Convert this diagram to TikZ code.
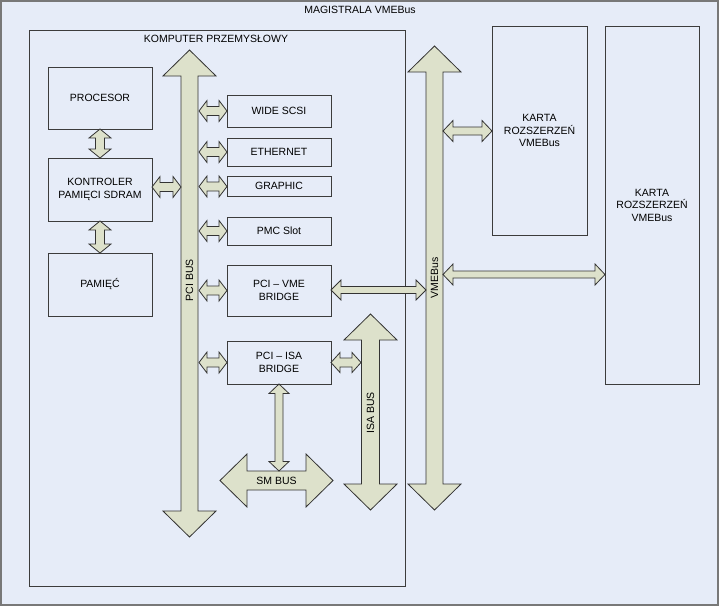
\documentclass[tikz,border=0pt]{standalone}
\usepackage{fontspec}
\setmainfont{Liberation Sans}
\definecolor{bgblue}{RGB}{230,236,248}
\definecolor{busfill}{RGB}{221,225,203}
\definecolor{frame}{RGB}{120,120,120}
\definecolor{boxline}{RGB}{60,60,60}
\newcommand\HArrow[6]{% x1 x2 yc shaft-half head-half head-len
  \filldraw[busarrow] (#1,#3) -- (#1+#6,#3-#5) -- (#1+#6,#3-#4) -- (#2-#6,#3-#4) -- (#2-#6,#3-#5)
    -- (#2,#3) -- (#2-#6,#3+#5) -- (#2-#6,#3+#4) -- (#1+#6,#3+#4) -- (#1+#6,#3+#5) -- cycle;}
\newcommand\VArrow[6]{% xc y1 y2 shaft-half head-half head-len
  \filldraw[busarrow] (#1,#2) -- (#1+#5,#2+#6) -- (#1+#4,#2+#6) -- (#1+#4,#3-#6) -- (#1+#5,#3-#6)
    -- (#1,#3) -- (#1-#5,#3-#6) -- (#1-#4,#3-#6) -- (#1-#4,#2+#6) -- (#1-#5,#2+#6) -- cycle;}
\begin{document}
\begin{tikzpicture}[x=1pt,y=-1pt,
  every node/.style={font=\fontsize{10.5}{12.5}\selectfont, text=black},
  blk/.style={draw=boxline, line width=1pt, fill=bgblue, inner sep=0pt, align=center},
  busarrow/.style={draw=black!80, line width=0.8pt, fill=busfill, line join=miter},
  lbl/.style={inner sep=0pt, align=center}]
\useasboundingbox (0,0) rectangle (719,606);
\filldraw[fill=bgblue, draw=frame, line width=2pt] (1,1) rectangle (718,605);
\node[lbl] (title) at (360,10) {MAGISTRALA VMEBus};
% computer frame
\draw[draw=boxline, line width=1pt] (29,30) rectangle (405,586);
\node[lbl] (komp) at (216,39) {KOMPUTER PRZEMYSŁOWY};
% left column
\node[blk, minimum width=104pt, minimum height=62pt] (proc) at (100,98) {PROCESOR};
\node[blk, minimum width=104pt, minimum height=63pt] (kontr) at (100,189.5) {KONTROLER\\PAMIĘCI SDRAM};
\node[blk, minimum width=104pt, minimum height=63pt] (pam) at (100,284.5) {PAMIĘĆ};
% PCI devices
\node[blk, minimum width=104pt, minimum height=32pt] (scsi) at (279,111) {WIDE SCSI};
\node[blk, minimum width=104pt, minimum height=28pt] (eth) at (279,152) {ETHERNET};
\node[blk, minimum width=104pt, minimum height=20pt] (gfx) at (279,186) {GRAPHIC};
\node[blk, minimum width=104pt, minimum height=28pt] (pmc) at (279,231) {PMC Slot};
\node[blk, minimum width=104pt, minimum height=51pt] (pcivme) at (279,290.5) {PCI – VME\\BRIDGE};
\node[blk, minimum width=104pt, minimum height=43pt] (pciisa) at (279,362.5) {PCI – ISA\\BRIDGE};
% cards
\node[blk, minimum width=95pt, minimum height=209pt] (karta1) at (539.5,130.5) {KARTA\\ROZSZERZEŃ\\VMEBus};
\node[blk, minimum width=94pt, minimum height=358pt] (karta2) at (652,205) {KARTA\\ROZSZERZEŃ\\VMEBus};
% big buses
\VArrow{189.5}{50}{537}{8.5}{26.5}{26}
\node[lbl, rotate=90] (pcibus) at (189.5,280) {PCI BUS};
\VArrow{434.5}{46}{510}{8.5}{26.5}{26}
\node[lbl, rotate=90] (vmebus) at (434.5,278) {VMEBus};
\VArrow{370.5}{314}{510}{9}{26.5}{26}
\node[lbl, rotate=90] (isabus) at (370.5,413) {ISA BUS};
\HArrow{220}{333}{480.5}{9.5}{26.5}{27}
\node[lbl] (smbus) at (276.5,480.5) {SM BUS};
% small connectors
\VArrow{100}{129}{158}{4.5}{11}{9}
\VArrow{100}{221}{253}{4.5}{11}{9}
\HArrow{152}{181}{187}{4.5}{10.5}{8}
\HArrow{199}{227}{111}{4.5}{10.5}{8}
\HArrow{199}{227}{152}{4.5}{10.5}{8}
\HArrow{199}{227}{186.5}{4.5}{10.5}{8}
\HArrow{199}{227}{231}{4.5}{10.5}{8}
\HArrow{199}{227}{290.5}{4.5}{10.5}{8}
\HArrow{199}{227}{362.5}{4.5}{10.5}{8}
\HArrow{331}{426}{290}{3.5}{10}{10}
\HArrow{331}{361}{362.5}{4.5}{10}{9}
\VArrow{279}{384}{471}{4}{10}{9.5}
\HArrow{443}{492}{131}{4}{10.5}{10}
\HArrow{443}{605}{274.5}{3.5}{10.5}{10}
\end{tikzpicture}
\end{document}
